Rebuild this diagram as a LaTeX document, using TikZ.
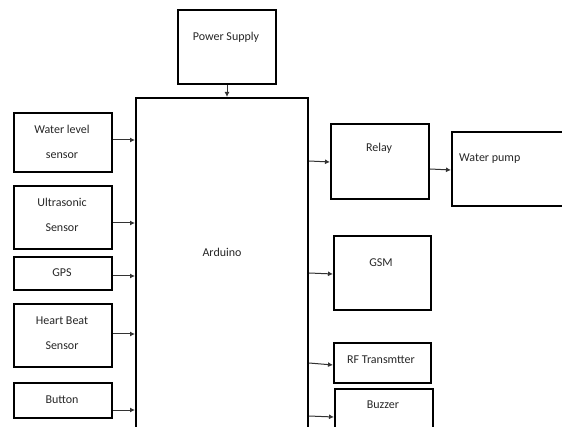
\documentclass[tikz,border=0pt]{standalone}
\usepackage{fontspec}
\setmainfont{Carlito}
\usetikzlibrary{arrows.meta}
\begin{document}
\begin{tikzpicture}[x=1pt,y=-1pt,
  box/.style={draw=black,line width=2pt,rectangle,inner sep=0pt,anchor=north west},
  txt/.style={font=\fontsize{12}{25}\selectfont,align=center,inner sep=0pt,text=black!85},
  arr/.style={line width=1pt,draw=black!80,-{Latex[length=5pt,width=5pt]}}]
\useasboundingbox (0,0) rectangle (562,427);
\begin{scope}
\clip (0,0) rectangle (562,427);
% Arduino
\node[box,minimum width=172pt,minimum height=330pt] (ard) at (135,97) {};
\node[txt] (ardt) at (222,252) {Arduino};
% Power supply
\node[box,minimum width=98pt,minimum height=74pt] (ps) at (177,9) {};
\node[txt] (pst) at (226,37) {Power Supply};
% left boxes
\node[box,minimum width=98pt,minimum height=59pt] (wl) at (13,112) {};
\node[txt] (wlt) at (62,142) {Water level\\sensor};
\node[box,minimum width=98pt,minimum height=63pt] (us) at (13,185) {};
\node[txt] (ust) at (62,215) {Ultrasonic\\Sensor};
\node[box,minimum width=98pt,minimum height=33pt] (gps) at (13,256) {};
\node[txt] (gpst) at (62,273) {GPS};
\node[box,minimum width=98pt,minimum height=63pt] (hb) at (13,303) {};
\node[txt] (hbt) at (62,333) {Heart Beat\\Sensor};
\node[box,minimum width=98pt,minimum height=35pt] (bt) at (13,382) {};
\node[txt] (btt) at (62,400) {Button};
% right boxes
\node[box,minimum width=98pt,minimum height=75pt] (rel) at (330,123) {};
\node[txt] (relt) at (379,148) {Relay};
\node[box,minimum width=140pt,minimum height=74pt] (wp) at (451,131) {};
\node[txt,anchor=west] (wpt) at (459,159) {Water pump};
\node[box,minimum width=97pt,minimum height=74pt] (gsm) at (333,235) {};
\node[txt] (gsmt) at (381,263) {GSM};
\node[box,minimum width=97pt,minimum height=40pt] (rf) at (333,342) {};
\node[txt] (rft) at (381,360) {RF Transmtter};
\node[box,minimum width=98pt,minimum height=45pt] (bz) at (334,388) {};
\node[txt] (bzt) at (383,405) {Buzzer};
% arrows
\draw[arr] (ps.south) -- (ard.north -| ps.south);
\draw[arr] (wl.east |- 0,140) -- (ard.west |- 0,140);
\draw[arr] (us.east |- 0,223) -- (ard.west |- 0,223);
\draw[arr] (gps.east |- 0,276) -- (ard.west |- 0,276);
\draw[arr] (hb.east |- 0,334) -- (ard.west |- 0,334);
\draw[arr] (bt.east |- 0,410) -- (ard.west |- 0,410);
\draw[arr] (ard.east |- 0,161) -- (rel.west |- 0,162);
\draw[arr] (rel.east |- 0,169) -- (wp.west |- 0,170);
\draw[arr] (ard.east |- 0,273) -- (gsm.west |- 0,274);
\draw[arr] (ard.east |- 0,363) -- (rf.west |- 0,365);
\draw[arr] (ard.east |- 0,416) -- (bz.west |- 0,417);
\end{scope}
\end{tikzpicture}
\end{document}
